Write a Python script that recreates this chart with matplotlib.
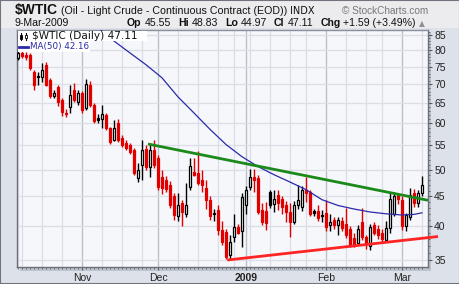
import numpy as np
import pandas as pd
import matplotlib.pyplot as plt
from matplotlib.patches import Rectangle
from matplotlib.lines import Line2D
from matplotlib.ticker import FixedLocator, FixedFormatter, NullFormatter

# trading days shown on the chart
holidays = ['2008-11-27', '2008-12-25', '2009-01-01', '2009-01-19', '2009-02-16']
dates = pd.bdate_range('2008-10-10', '2009-03-09')
dates = dates[~dates.isin(pd.to_datetime(holidays))]

opens = [77.6, 79.1, 78.5, 78.5, 73.4, 72.3, 71.9, 75.5, 71.2, 66.9,
         69.2, 65.8, 62.2, 64.0, 68.4, 65.3, 67.6, 63.7, 69.8, 64.5,
         61.2, 61.0, 62.0, 58.8, 56.2, 60.0, 56.7, 55.5, 55.1, 54.0,
         48.4, 50.9, 54.2, 50.5, 54.0, 52.3, 48.6, 48.0, 47.1, 45.0,
         41.6, 43.8, 42.0, 46.7, 49.6, 49.4, 48.0, 46.5, 44.4, 42.2,
         42.6, 39.4, 39.1, 35.7, 38.4, 39.9, 39.2, 43.5, 46.7, 48.6,
         48.4, 42.6, 42.4, 45.8, 43.6, 45.2, 44.6, 43.5, 42.3, 40.7,
         43.5, 43.2, 46.1, 45.8, 42.4, 42.4, 41.8, 42.2, 40.2, 41.0,
         40.2, 40.8, 40.4, 39.6, 38.2, 37.4, 40.6, 38.4, 37.0, 40.2,
         39.6, 38.9, 37.9, 39.7, 42.0, 45.2, 44.4, 40.0, 41.4, 45.5,
         43.8, 45.55]
highs = [79.7, 79.7, 79.5, 79.2, 74.0, 73.4, 76.0, 76.5, 71.8, 68.5,
         69.8, 66.3, 63.5, 69.8, 70.4, 68.4, 68.2, 71.5, 70.9, 65.0,
         62.3, 64.5, 62.6, 59.2, 60.8, 61.0, 57.3, 56.2, 55.5, 54.4,
         51.4, 56.2, 55.0, 55.5, 56.2, 53.0, 49.9, 48.8, 47.8, 45.6,
         45.6, 44.4, 47.5, 52.3, 52.3, 53.8, 49.9, 47.9, 45.0, 42.8,
         43.5, 40.8, 39.6, 38.6, 42.0, 40.4, 45.6, 46.9, 50.2, 50.2,
         49.0, 43.8, 44.0, 46.1, 46.1, 46.1, 45.0, 44.2, 43.8, 44.2,
         47.0, 46.9, 48.6, 46.1, 42.8, 43.5, 42.6, 44.4, 42.0, 41.4,
         41.5, 41.4, 43.0, 40.0, 38.9, 40.2, 43.0, 38.7, 40.4, 40.6,
         40.2, 39.5, 40.8, 45.6, 45.8, 45.6, 45.0, 42.2, 46.5, 46.3,
         46.1, 48.83]
lows = [77.0, 77.6, 77.0, 74.0, 68.4, 69.8, 70.6, 69.5, 66.2, 66.4,
        64.2, 61.7, 61.4, 62.5, 65.3, 64.5, 62.6, 63.2, 64.0, 60.0,
        60.0, 59.0, 58.4, 55.3, 55.9, 55.8, 54.6, 54.0, 53.2, 48.9,
        47.7, 48.0, 49.9, 48.5, 50.3, 46.2, 45.4, 45.8, 43.0, 41.0,
        40.8, 40.0, 41.4, 46.2, 48.8, 47.1, 45.8, 42.8, 41.0, 40.8,
        38.7, 37.2, 35.2, 35.1, 37.6, 38.8, 36.8, 42.0, 46.2, 45.8,
        42.0, 40.2, 39.4, 43.0, 42.3, 42.6, 42.0, 40.6, 38.4, 40.3,
        42.8, 42.4, 44.0, 41.6, 41.6, 40.8, 40.6, 39.2, 39.3, 39.6,
        38.7, 39.2, 38.2, 36.8, 36.9, 37.2, 37.9, 36.6, 36.4, 38.6,
        38.0, 37.6, 37.6, 39.0, 41.6, 43.6, 39.4, 39.2, 41.0, 43.2,
        43.2, 44.97]
closes = [79.1, 78.2, 77.8, 74.6, 69.8, 72.0, 74.0, 69.8, 66.8, 67.6,
          65.3, 62.7, 62.6, 67.1, 65.8, 67.6, 63.2, 70.1, 64.5, 60.6,
          60.9, 62.2, 58.8, 55.8, 58.8, 56.2, 55.1, 54.4, 53.6, 49.4,
          49.9, 54.0, 50.5, 54.0, 50.9, 46.7, 46.5, 46.3, 43.5, 41.8,
          43.5, 42.3, 43.5, 50.7, 49.0, 47.5, 47.1, 44.3, 41.6, 42.0,
          39.4, 37.6, 35.4, 37.6, 39.9, 39.0, 44.8, 46.1, 48.6, 48.0,
          42.3, 40.7, 40.5, 43.5, 44.6, 43.8, 43.2, 42.3, 40.7, 43.5,
          44.3, 46.1, 45.6, 41.9, 42.1, 41.3, 41.6, 39.9, 40.7, 40.2,
          41.0, 39.7, 38.7, 37.2, 37.0, 39.6, 38.4, 37.3, 39.9, 39.0,
          38.7, 38.0, 39.7, 44.6, 45.0, 44.6, 40.0, 41.8, 45.2, 43.8,
          45.52, 47.11]

# 50-day moving average
ma_dates = ['2008-11-07', '2008-11-13', '2008-11-19', '2008-11-25', '2008-12-02',
            '2008-12-08', '2008-12-12', '2008-12-18', '2008-12-24', '2008-12-31',
            '2009-01-07', '2009-01-13', '2009-01-20', '2009-01-26', '2009-01-30',
            '2009-02-05', '2009-02-11', '2009-02-18', '2009-02-24', '2009-03-02',
            '2009-03-05', '2009-03-09']
ma_values = [87.5, 83.0, 79.2, 75.6, 71.8, 66.6, 62.5, 58.6, 55.2, 52.6,
             50.6, 49.0, 47.6, 46.2, 44.4, 43.4, 42.8, 42.3, 42.0, 41.8,
             41.9, 42.16]

# hand drawn trend lines (bar position, price)
green_x = [32.5, 102.5]
green_y = [55.3, 44.3]
red_x = [52.3, 105.0]
red_y = [35.0, 38.4]

y_ticks = [35, 40, 45, 50, 55, 60, 65, 70, 75, 80, 85]
month_labels = ['Nov', 'Dec', '2009', 'Feb', 'Mar']

W, H = 460, 284
def fx(px):
    return px / W
def fy(py):
    return 1 - py / H

fig = plt.figure(figsize=(4.6, 2.84), dpi=100, facecolor='#ececee')
fig.patches.append(Rectangle((0, 0), 1, fy(28), transform=fig.transFigure,
                             facecolor='#dde1e9', edgecolor='none', zorder=0))
fig.patches.append(Rectangle((fx(20), fy(271)), fx(431) - fx(20), fy(33) - fy(271),
                             transform=fig.transFigure, facecolor='#bfc3cc',
                             edgecolor='none', zorder=0))
fig.patches.append(Rectangle((0, 0), 1, 1, transform=fig.transFigure, fill=False,
                             edgecolor='#70747e', lw=1.5, zorder=10))

ax = fig.add_axes([fx(17), fy(267), fx(428) - fx(17), fy(30) - fy(267)])
ax.set_zorder(2)
ax.set_facecolor('#f6f7fb')
ax.set_yscale('log')

n = len(closes)
idx = np.arange(n)
o = np.array(opens)
h = np.array(highs)
l = np.array(lows)
c = np.array(closes)

# grid: weekly light lines, monthly darker lines
week_start = [i for i in range(n) if i == 0 or dates[i].weekday() < dates[i - 1].weekday()]
month_start = [i for i in range(1, n) if dates[i].month != dates[i - 1].month]
for i in week_start:
    if i not in month_start:
        ax.axvline(i, color='#dcdee5', lw=0.9, zorder=0)
for i in month_start:
    ax.axvline(i, color='#bcc0c8', lw=1.0, zorder=0)
for v in y_ticks:
    ax.axhline(v, color='#dcdee5', lw=0.9, zorder=0)

# candles: red when down from previous close, filled when close < open
prev = np.concatenate([[o[0]], c[:-1]])
edge = np.where(c >= prev, 'black', '#e00000')
face = np.where(c > o, '#ffffff', edge)
ax.vlines(idx, l, h, colors=edge, lw=1.0, zorder=3)
ax.bar(idx, np.abs(c - o), bottom=np.minimum(o, c), width=0.72,
       color=face, edgecolor=edge, linewidth=0.9, zorder=4)

ma_pos = [dates.get_loc(pd.Timestamp(d)) for d in ma_dates]
ax.plot(ma_pos, ma_values, color='#2a2aa8', lw=0.9, zorder=5)
ax.plot(green_x, green_y, color='#1b8a1b', lw=2.0, zorder=6, solid_capstyle='butt')
ax.plot(red_x, red_y, color='#ff2424', lw=2.0, zorder=6, clip_on=False,
        solid_capstyle='butt')

ax.set_xlim(-0.25, 102.5)
ax.set_ylim(34.05, 86.7)

ax.yaxis.tick_right()
ax.yaxis.set_major_locator(FixedLocator(y_ticks))
ax.yaxis.set_major_formatter(FixedFormatter([str(v) for v in y_ticks]))
ax.yaxis.set_minor_locator(FixedLocator(np.arange(35, 87, 1)))
ax.yaxis.set_minor_formatter(NullFormatter())
ax.tick_params(axis='y', which='major', length=3, width=0.8, color='#555a63',
               labelsize=7.5, pad=1.5, labelcolor='#222222')
ax.tick_params(axis='y', which='minor', length=1.5, width=0.6, color='#555a63')

ax.xaxis.set_major_locator(FixedLocator(month_start))
ax.xaxis.set_major_formatter(FixedFormatter(month_labels))
ax.xaxis.set_minor_locator(FixedLocator(idx))
ax.tick_params(axis='x', which='major', length=2, width=0.8, color='#555a63',
               labelsize=7.5, pad=2, labelcolor='#222222')
ax.tick_params(axis='x', which='minor', length=1.5, width=0.6, color='#555a63')
for lab in ax.get_xticklabels():
    lab.set_fontfamily('Liberation Sans')
    if lab.get_text() == '2009':
        lab.set_fontweight('bold')
for lab in ax.get_yticklabels():
    lab.set_fontfamily('Liberation Sans')

for s in ax.spines.values():
    s.set_color('#8a8f99')
    s.set_linewidth(1.0)
ax.spines['left'].set_color('#6a6f79')
ax.spines['bottom'].set_color('#6a6f79')
ax.spines['right'].set_color('#6a6f79')

# header
fig.text(fx(15), fy(10), '$WTIC', fontsize=10, weight='bold', family='Liberation Sans',
         va='center', ha='left', color='#111111')
fig.text(fx(61), fy(10.5), '(Oil - Light Crude - Continuous Contract (EOD))', fontsize=7.7,
         family='Liberation Sans', va='center', ha='left', color='#111111')
fig.text(fx(290), fy(10.5), 'INDX', fontsize=7, family='DejaVu Sans', va='center',
         ha='left', color='#111111')
fig.text(fx(428), fy(10.5), '\u00a9 StockCharts.com', fontsize=7.2,
         family='Liberation Sans', va='center', ha='right', color='#777777')
fig.text(fx(15), fy(23.5), '9-Mar-2009', fontsize=7.6, family='Liberation Sans',
         va='center', ha='left', color='#111111')

renderer = fig.canvas.get_renderer()
pieces = [('Op', True, 3), ('45.55', False, 7), ('Hi', True, 3), ('48.83', False, 7),
          ('Lo', True, 3), ('44.97', False, 7), ('Cl', True, 3), ('47.11', False, 7),
          ('Chg', True, 3), ('+1.59 (+3.49%)', False, 3)]
x = 127
for txt, bold, gap in pieces:
    t = fig.text(fx(x), fy(23.5), txt, fontsize=7.6, family='Liberation Sans',
                 weight='bold' if bold else 'normal', va='center', ha='left',
                 color='#111111')
    x += t.get_window_extent(renderer).width + gap
fig.text(fx(x), fy(23.5), '\u25b2', fontsize=5.5, family='DejaVu Sans',
         va='center', ha='left', color='#909090')

# legend box inside the plot
fig.patches.append(Rectangle((fx(18), fy(41)), fx(147) - fx(18), fy(31) - fy(41),
                             transform=fig.transFigure, facecolor='white',
                             edgecolor='none', zorder=7))
fig.patches.append(Rectangle((fx(18), fy(52)), fx(90) - fx(18), fy(41) - fy(52),
                             transform=fig.transFigure, facecolor='white',
                             edgecolor='none', zorder=7))
fig.add_artist(Line2D([fx(21), fx(21)], [fy(33), fy(40)], color='black', lw=0.8, zorder=8))
fig.add_artist(Rectangle((fx(20), fy(39)), fx(2), fy(35) - fy(39), transform=fig.transFigure,
                         facecolor='black', edgecolor='black', lw=0.6, zorder=8))
fig.add_artist(Line2D([fx(26), fx(26)], [fy(33), fy(40)], color='black', lw=0.8, zorder=8))
fig.add_artist(Rectangle((fx(25), fy(38)), fx(2), fy(35) - fy(38), transform=fig.transFigure,
                         facecolor='white', edgecolor='black', lw=0.6, zorder=8))
fig.text(fx(32), fy(36), '$WTIC (Daily) 47.11', fontsize=7.6, family='DejaVu Sans',
         va='center', ha='left', color='#111111', zorder=9)
fig.add_artist(Line2D([fx(19), fx(28)], [fy(47), fy(47)], color='#2a2aa8', lw=2, zorder=8))
fig.text(fx(30), fy(47), 'MA(50) 42.16', fontsize=6.3, family='DejaVu Sans',
         va='center', ha='left', color='#2a2aa8', zorder=9)

fig.savefig('out.png', dpi=100, facecolor=fig.get_facecolor())
